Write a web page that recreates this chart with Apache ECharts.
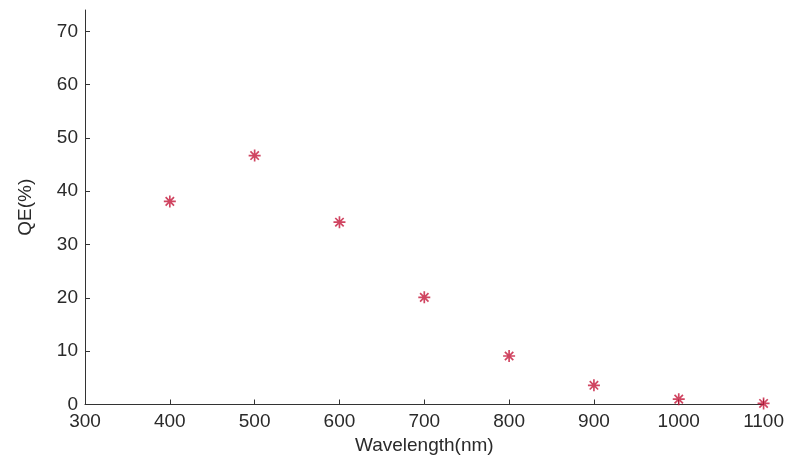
<!DOCTYPE html>
<html>
<head>
<meta charset="utf-8">
<script src="https://cdn.jsdelivr.net/npm/echarts@6/dist/echarts.min.js"></script>
<style>html,body{margin:0;padding:0;background:#fff}#c{width:787px;height:462px}</style>
</head>
<body>
<div id="c"></div>
<script>
const wavelengths = [400, 500, 600, 700, 800, 900, 1000, 1100];
const qeValues = [38.1, 46.7, 34.2, 20.1, 9.1, 3.6, 1.0, 0.2];
const xTicks = [300, 400, 500, 600, 700, 800, 900, 1000, 1100];
const yTicks = [0, 10, 20, 30, 40, 50, 60, 70];

const star = 'path://M4.3,0 L5.7,0 L5.7,10 L4.3,10 Z M0,4.3 L10,4.3 L10,5.7 L0,5.7 Z M1,2 L2,1 L9,8 L8,9 Z M8,1 L9,2 L2,9 L1,8 Z';
const font = 'Liberation Sans, Arial, sans-serif';
const chart = echarts.init(document.getElementById('c'));
chart.setOption({
  animation: false,
  backgroundColor: '#fff',
  grid: {left: 85, right: 23, top: 10, bottom: 57.5},
  xAxis: {
    type: 'value', min: 300, max: 1100, interval: 100,
    name: 'Wavelength(nm)', nameLocation: 'middle', nameGap: 32,
    nameTextStyle: {fontFamily: font, fontSize: 19, color: '#2a2a2a'},
    axisLine: {show: true, lineStyle: {color: '#333', width: 1}},
    axisTick: {show: true, inside: true, length: 5, lineStyle: {color: '#333'}},
    axisLabel: {fontFamily: font, fontSize: 19, color: '#2a2a2a', margin: 8,
      formatter: v => String(v)},
    splitLine: {show: false}
  },
  yAxis: {
    type: 'value', min: 0, max: 74, interval: 10,
    name: 'QE(%)', nameLocation: 'middle', nameGap: 50,
    nameTextStyle: {fontFamily: font, fontSize: 19, color: '#2a2a2a'},
    axisLine: {show: true, lineStyle: {color: '#333', width: 1}},
    axisTick: {show: true, inside: true, length: 5, lineStyle: {color: '#333'}},
    axisLabel: {fontFamily: font, fontSize: 19, color: '#2a2a2a', margin: 7, showMaxLabel: false,
      formatter: v => String(v)},
    splitLine: {show: false}
  },
  series: [{
    type: 'scatter',
    data: wavelengths.map((w, i) => [w, qeValues[i]]),
    symbol: star,
    symbolSize: 12,
    itemStyle: {color: '#c4163a'}
  }]
});
</script>
</body>
</html>
